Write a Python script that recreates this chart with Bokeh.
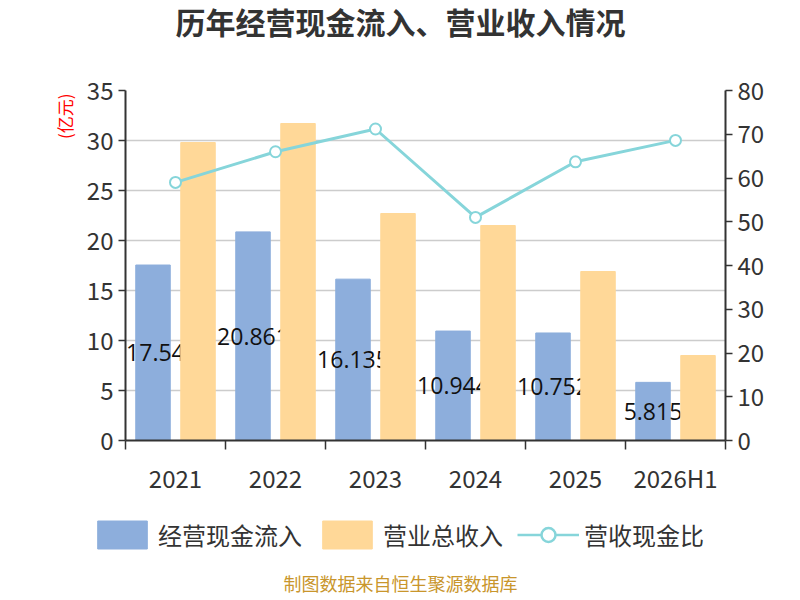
import numpy as np
from bokeh.plotting import figure
from bokeh.models import (Range1d, LinearAxis, FixedTicker, Legend, LegendItem,
                          Title, Label, ColumnDataSource)
from bokeh.transform import dodge
from bokeh.core.properties import value
from bokeh.embed import file_html
from bokeh.resources import INLINE

# ---------------- data ----------------
categories = ["2021", "2022", "2023", "2024", "2025", "2026H1"]
cash_inflow = [17.547, 20.861, 16.135, 10.944, 10.752, 5.815]      # 经营现金流入 (亿元)
revenue = [29.8, 31.7, 22.7, 21.5, 16.9, 8.5]                      # 营业总收入 (亿元)
cash_ratio = [59.0, 66.0, 71.2, 51.0, 63.7, 68.6]                  # 营收现金比 (%)
cash_labels = ["17.547", "20.861", "16.135", "10.944", "10.752", "5.815"]
left_ticks = [0, 5, 10, 15, 20, 25, 30, 35]
right_ticks = [0, 10, 20, 30, 40, 50, 60, 70, 80]

TITLE = "历年经营现金流入、营业收入情况"
FOOTER = "制图数据来自恒生聚源数据库"
LEFT_UNIT = "(亿元)"
SERIES = ["经营现金流入", "营业总收入", "营收现金比"]

BLUE = "#8DAEDC"
ORANGE = "#FFD898"
TEAL = "#86D5DA"
AXIS = "#333333"
FONT = "Noto Sans CJK SC"
W = 784


def blank(h):
    f = figure(width=W, height=h, x_range=Range1d(0, W), y_range=Range1d(0, h),
               x_axis_type=None, y_axis_type=None, min_border=0,
               toolbar_location=None, output_backend="svg")
    f.outline_line_color = None
    f.background_fill_color = "white"
    f.border_fill_color = "white"
    f.grid.visible = False
    return f


# ---------------- title strip ----------------
TOP_H = 70
top = blank(TOP_H)
top.add_layout(Label(x=400, y=TOP_H - 20, text=TITLE, text_align="center",
                     text_baseline="middle", text_font=FONT, text_font_size="30px",
                     text_font_style="bold", text_color=AXIS))

# ---------------- main chart ----------------
x = np.arange(len(categories))
label_dx = [9, 0, 0, 0, 0, 0]   # keep the first label clear of the frame edge
src = ColumnDataSource(dict(
    x=x,
    cash=cash_inflow,
    cash_mid=[v / 2 for v in cash_inflow],
    rev=revenue,
    ratio=cash_ratio,
    lbl=cash_labels,
    dx=label_dx,
))

p = figure(width=W, height=430, output_backend="svg", toolbar_location=None,
           x_range=Range1d(-0.5, len(categories) - 0.5),
           y_range=Range1d(left_ticks[0], left_ticks[-1]),
           min_border_left=125, min_border_right=59,
           min_border_top=20, min_border_bottom=60)
p.extra_y_ranges = {"pct": Range1d(right_ticks[0], right_ticks[-1])}
p.outline_line_color = None
p.background_fill_color = "white"
p.border_fill_color = "white"

p.vbar(x=dodge("x", -0.225), top="cash", width=0.345, source=src,
       fill_color=BLUE, line_color=BLUE)
p.text(x=dodge("x", -0.225), y="cash_mid", text="lbl", x_offset="dx", source=src,
       text_align="center", text_baseline="middle", text_color="#111111",
       text_font=value("Open Sans"), text_font_size="23px")
p.vbar(x=dodge("x", 0.225), top="rev", width=0.345, source=src,
       fill_color=ORANGE, line_color=ORANGE)
p.line(x="x", y="ratio", source=src, y_range_name="pct",
       line_color=TEAL, line_width=3)
p.scatter(x="x", y="ratio", source=src, y_range_name="pct", size=11,
          fill_color="white", line_color=TEAL, line_width=2)

xa = p.xaxis[0]
xa.ticker = FixedTicker(ticks=list(x), minor_ticks=[i - 0.5 for i in range(len(categories) + 1)])
xa.major_label_overrides = {int(i): c for i, c in zip(x, categories)}
xa.major_tick_line_color = None
xa.minor_tick_line_color = AXIS
xa.minor_tick_line_width = 1.5
xa.minor_tick_out = 9
xa.minor_tick_in = 0
xa.major_label_standoff = 10

ya = p.yaxis[0]
ya.ticker = FixedTicker(ticks=left_ticks)
ya.major_tick_out = 7
ya.major_tick_in = 0
ya.major_label_standoff = 5

ra = LinearAxis(y_range_name="pct", ticker=FixedTicker(ticks=right_ticks))
ra.major_tick_out = 7
ra.major_tick_in = 0
ra.major_label_standoff = 5
p.add_layout(ra, "right")

for ax in [xa, ya, ra]:
    ax.axis_line_color = AXIS
    ax.axis_line_width = 2
    ax.major_label_text_font_size = "24px"
    ax.major_label_text_color = AXIS
    ax.major_label_text_font = FONT
    if ax is not xa:
        ax.minor_tick_line_color = None
        ax.major_tick_line_color = AXIS
        ax.major_tick_line_width = 1.5

p.xgrid.grid_line_color = None
p.ygrid.ticker = FixedTicker(ticks=left_ticks)
p.ygrid.grid_line_color = "#cccccc"
p.ygrid.grid_line_width = 1.5

p.add_layout(Title(text=LEFT_UNIT, align="right", offset=3, standoff=13,
                   text_font=FONT, text_font_size="17px", text_font_style="normal",
                   text_color="#ff0000"), "left")

# ---------------- legend + footer strip ----------------
BOT_H = 96
bot = blank(BOT_H)
# legend keys: same series, drawn on a range that keeps them out of view
bot.extra_y_ranges = {"keys": Range1d(1000, 1001)}
lg_blue = bot.vbar(x="x", top="cash", width=0.345, source=src, y_range_name="keys",
                   fill_color=BLUE, line_color=BLUE, border_radius=6)
lg_orange = bot.vbar(x="x", top="rev", width=0.345, source=src, y_range_name="keys",
                     fill_color=ORANGE, line_color=ORANGE, border_radius=6)
lg_line = bot.line(x="x", y="ratio", source=src, y_range_name="keys",
                   line_color=TEAL, line_width=2.5)
lg_pts = bot.scatter(x="x", y="ratio", source=src, y_range_name="keys", size=20,
                     fill_color="white", line_color=TEAL, line_width=2.5)

legend = Legend(items=[
    LegendItem(label=SERIES[0], renderers=[lg_blue]),
    LegendItem(label=SERIES[1], renderers=[lg_orange]),
    LegendItem(label=SERIES[2], renderers=[lg_line, lg_pts]),
], orientation="horizontal", location=(91, 44),
    glyph_width=62, glyph_height=35, label_standoff=5, spacing=14,
    padding=0, margin=0, border_line_color=None, background_fill_alpha=0,
    label_text_font=FONT, label_text_font_size="24px", label_text_color=AXIS)
bot.add_layout(legend, "center")

bot.add_layout(Label(x=400, y=14, text=FOOTER, text_align="center", text_baseline="middle",
                     text_font=FONT, text_font_size="18px", text_color="#C9962C"))

open("out.html", "w").write(file_html([top, p, bot], INLINE))
